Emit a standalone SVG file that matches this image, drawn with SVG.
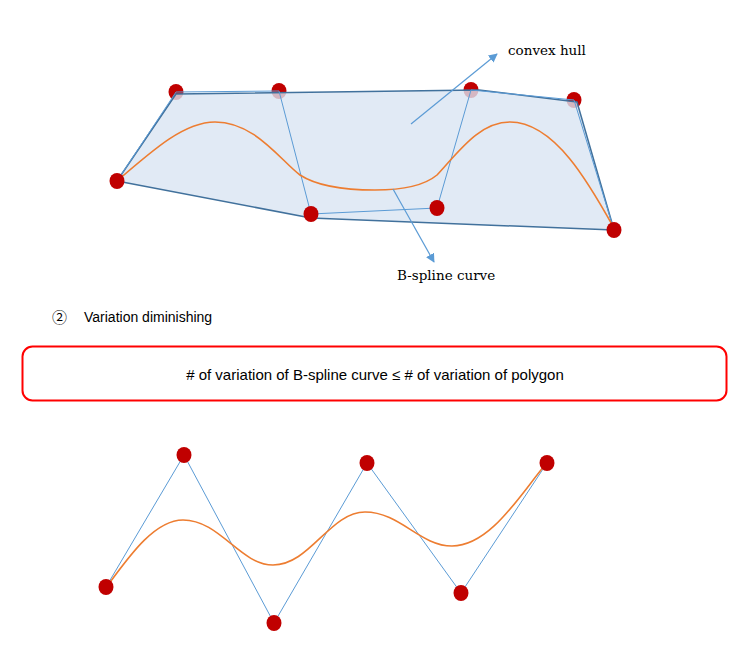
<svg xmlns="http://www.w3.org/2000/svg" width="753" height="651" viewBox="0 0 753 651">
<style>
.pt{fill:#C00000}
.poly{fill:none;stroke:#5B9BD5;stroke-width:1}
.curve{fill:none;stroke:#ED7D31;stroke-width:1.6}
.hull{fill:#DAE5F2;fill-opacity:0.8;stroke:#41719C;stroke-width:1.5;stroke-linejoin:round}
.arr{stroke:#5B9BD5;stroke-width:1.2;fill:none}
.serif{font-family:"DejaVu Serif","Liberation Serif",serif;font-size:13.5px;fill:#000}
.sans{font-family:"Liberation Sans","Noto Sans CJK KR",sans-serif;fill:#000}
</style>
<defs>
<marker id="ah" viewBox="0 0 10 10" refX="9" refY="5" markerWidth="9" markerHeight="9" markerUnits="userSpaceOnUse" orient="auto">
<path d="M0,0 L10,5 L0,10 z" fill="#5B9BD5"/>
</marker>
</defs>
<g id="top-back-points">
<ellipse class="pt" cx="176" cy="92" rx="7.5" ry="8"/>
<ellipse class="pt" cx="279" cy="91" rx="7.5" ry="8"/>
<ellipse class="pt" cx="471" cy="90" rx="7.5" ry="8"/>
<ellipse class="pt" cx="574" cy="100" rx="7.5" ry="8"/>
</g>
<g id="hull">
<polygon class="hull" points="117,181 176,94 479,90 577,102 614,230 311,218"/>
</g>
<g id="connectors">
<polyline class="poly" points="117,181 176,92 279,91 311,214 437,208 471,90 574,100 614,230"/>
<path class="curve" d="M117,181 C155,148 185,122 215,122 C255,122 280,160 300,175 C320,188 350,190 375,190 C405,190 425,185 437,175 C460,150 480,122 510,122 C555,122 590,185 614,228"/>
<line class="arr" x1="411" y1="124" x2="497" y2="54" marker-end="url(#ah)"/>
<line class="arr" x1="393" y1="189" x2="434" y2="262" marker-end="url(#ah)"/>
<polyline class="poly" points="106,587 184,455 274,623 367,463 461,593 547,463"/>
<path class="curve" d="M108,585 C130,555 155,520 183,520 C220,520 240,565 273,565 C310,565 330,512 365,512 C400,512 420,546 452,546 C490,546 520,495 545,465"/>
</g>
<g id="top-front-points">
<ellipse class="pt" cx="117" cy="181" rx="7.5" ry="8"/>
<ellipse class="pt" cx="311" cy="214" rx="7.5" ry="8"/>
<ellipse class="pt" cx="437" cy="208" rx="7.5" ry="8"/>
<ellipse class="pt" cx="614" cy="230" rx="7.5" ry="8"/>
</g>
<g id="labels">
<text class="serif" x="508" y="55">convex hull</text>
<text class="serif" x="397" y="280">B-spline curve</text>
<text class="sans" x="52" y="323" font-size="15">②</text>
<text class="sans" x="84" y="322" font-size="14">Variation diminishing</text>
</g>
<g id="rule-box">
<rect x="22.5" y="346.5" width="704" height="54" rx="10" ry="10" fill="#fff" stroke="#FF0000" stroke-width="2"/>
<text class="sans" x="375" y="380" font-size="15" text-anchor="middle"># of variation of B-spline curve ≤ # of variation of polygon</text>
</g>
<g id="bottom-points">
<ellipse class="pt" cx="106" cy="587" rx="7.5" ry="8"/>
<ellipse class="pt" cx="184" cy="455" rx="7.5" ry="8"/>
<ellipse class="pt" cx="274" cy="623" rx="7.5" ry="8"/>
<ellipse class="pt" cx="367" cy="463" rx="7.5" ry="8"/>
<ellipse class="pt" cx="461" cy="593" rx="7.5" ry="8"/>
<ellipse class="pt" cx="547" cy="463" rx="7.5" ry="8"/>
</g>
</svg>
